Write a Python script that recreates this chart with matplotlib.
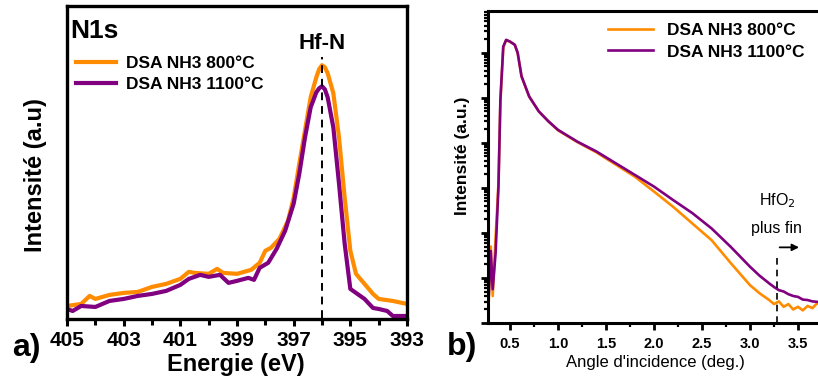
import matplotlib.pyplot as plt
import matplotlib
import numpy as np
from matplotlib.ticker import FixedLocator, MultipleLocator, LogLocator, NullFormatter

matplotlib.rcParams.update({'font.family': ['Liberation Sans', 'DejaVu Sans']})

ORANGE = '#ff8c00'
PURPLE = '#800080'
labels = ['DSA NH3 800°C', 'DSA NH3 1100°C']

# --- a) N1s spectra (binding energy, arbitrary intensity) ---
e_800 = [405.0, 404.5, 404.2, 404.0, 403.5, 403.0, 402.5, 402.0, 401.5, 401.0, 400.7,
         400.5, 400.0, 399.7, 399.5, 399.0, 398.5, 398.2, 398.0, 397.8, 397.5, 397.2,
         397.0, 396.8, 396.6, 396.4, 396.2, 396.1, 396.0, 395.9, 395.8, 395.6, 395.4,
         395.2, 395.0, 394.8, 394.5, 394.2, 394.0, 393.5, 393.0]
i_800 = [10, 12, 20, 17, 21, 23, 24, 29, 32, 37, 44,
         43, 42, 47, 43, 42, 46, 53, 65, 68, 77, 95,
         118, 152, 185, 218, 238, 246, 250, 248, 242, 222, 178,
         118, 65, 42, 32, 22, 17, 15, 12]
e_1100 = [405.0, 404.8, 404.5, 404.0, 403.5, 403.0, 402.5, 402.0, 401.5, 401.0, 400.7,
          400.3, 400.0, 399.6, 399.3, 399.0, 398.6, 398.4, 398.2, 397.9, 397.6, 397.3,
          397.0, 396.8, 396.6, 396.4, 396.2, 396.1, 396.0, 395.9, 395.8, 395.6, 395.4,
          395.2, 395.0, 394.8, 394.5, 394.2, 394.0, 393.7, 393.5, 393.0]
i_1100 = [7, 5, 10, 9, 15, 17, 20, 22, 25, 31, 37,
          41, 39, 41, 33, 35, 38, 36, 48, 53, 67, 85,
          112, 142, 178, 208, 223, 227, 229, 226, 218, 188, 132,
          72, 27, 23, 17, 8, 7, 5, 0, 0]
e_ticks = [405, 403, 401, 399, 397, 395, 393]

# --- b) intensity vs incidence angle (log10 of intensity) ---
ang_800 = [0.27, 0.30, 0.32, 0.35, 0.38, 0.40, 0.43, 0.46, 0.50, 0.55, 0.58, 0.62,
           0.70, 0.80, 0.90, 1.0, 1.2, 1.4, 1.6, 1.8, 2.0, 2.2, 2.4, 2.6, 2.8,
           3.0, 3.1, 3.2, 3.25, 3.3, 3.35, 3.4, 3.45, 3.5, 3.55, 3.6, 3.65, 3.7, 3.75]
log_800 = [0.0, 1.7, 0.6, 1.9, 3.1, 4.9, 6.12, 6.28, 6.25, 6.18, 6.0, 5.48,
           5.03, 4.7, 4.48, 4.28, 4.02, 3.79, 3.52, 3.25, 2.92, 2.58, 2.21, 1.84, 1.33,
           0.84, 0.66, 0.51, 0.42, 0.48, 0.36, 0.42, 0.30, 0.36, 0.28, 0.38, 0.33, 0.44, 0.40]
ang_1100 = [0.27, 0.30, 0.32, 0.35, 0.38, 0.40, 0.43, 0.46, 0.50, 0.55, 0.58, 0.62,
            0.70, 0.80, 0.90, 1.0, 1.2, 1.4, 1.6, 1.8, 2.0, 2.2, 2.4, 2.6, 2.8,
            3.0, 3.1, 3.2, 3.25, 3.3, 3.35, 3.4, 3.45, 3.5, 3.55, 3.6, 3.65, 3.7, 3.75]
log_1100 = [0.2, 1.6, 0.75, 1.55, 3.03, 4.96, 6.14, 6.29, 6.25, 6.18, 6.0, 5.48,
            5.03, 4.7, 4.48, 4.29, 4.03, 3.81, 3.55, 3.29, 3.03, 2.73, 2.44, 2.1, 1.69,
            1.25, 1.05, 0.88, 0.80, 0.73, 0.70, 0.64, 0.60, 0.58, 0.52, 0.51, 0.48, 0.47, 0.45]

W, H = 818, 380
fig = plt.figure(figsize=(W / 100, H / 100), dpi=100)

def fx(px):
    return px / W

def fy(py):
    return 1 - py / H

# ---------------- panel a ----------------
ax1 = fig.add_axes([fx(67), fy(319), fx(407) - fx(67), fy(6) - fy(319)])
ax1.plot(e_800, i_800, color=ORANGE, lw=3.0, label=labels[0])
ax1.plot(e_1100, i_1100, color=PURPLE, lw=3.0, label=labels[1])
ax1.vlines(396.0, -2, 258, colors='k', linestyles=(0, (4, 3)), lw=1.4)
ax1.set_xlim(405, 393)
ax1.set_ylim(-3, 309)
ax1.xaxis.set_major_locator(FixedLocator(e_ticks))
ax1.xaxis.set_minor_locator(MultipleLocator(1))
ax1.set_yticks([])
ax1.tick_params(axis='x', which='major', direction='out', length=5, width=2.2,
                labelsize=15, pad=4)
ax1.tick_params(axis='x', which='minor', direction='out', length=4, width=2.2)
for lab in ax1.get_xticklabels():
    lab.set_fontweight('bold')
for s in ax1.spines.values():
    s.set_linewidth(2.4)
ax1.legend(loc='upper left', bbox_to_anchor=(-0.005, 0.875), frameon=False,
           prop={'weight': 'bold', 'size': 12.5}, handlelength=2.3,
           handletextpad=0.6, labelspacing=0.35, borderaxespad=0.2)
ax1.text(405 - 0.1, 309 - 25, 'N1s', fontsize=19, fontweight='bold', va='center', ha='left')
ax1.text(396.0, 266, 'Hf-N', fontsize=16, fontweight='bold', ha='center', va='baseline')

# ---------------- panel b ----------------
ax2 = fig.add_axes([fx(488), fy(323), fx(822) - fx(488), fy(11) - fy(323)])
ax2.plot(ang_800, 10 ** np.array(log_800), color=ORANGE, lw=1.9, label=labels[0])
ax2.plot(ang_1100, 10 ** np.array(log_1100), color=PURPLE, lw=1.9, label=labels[1])
ax2.set_yscale('log')
ax2.set_xlim(0.271, 3.75)
ax2.set_ylim(1, 10 ** 6.93)
ax2.vlines(3.28, 1, 10 ** 1.5, colors='k', linestyles=(0, (4, 3)), lw=1.2)
ax2.annotate('', xy=(3.54, 10 ** 1.68), xytext=(3.28, 10 ** 1.68),
             arrowprops=dict(arrowstyle='-|>', color='k', lw=1.3, mutation_scale=10))
ax2.text(3.28, 10 ** 2.72, 'HfO$_2$', fontsize=11.5, ha='center', va='center')
ax2.text(3.28, 10 ** 2.1, 'plus fin', fontsize=11.5, ha='center', va='center')
ax2.xaxis.set_major_locator(MultipleLocator(0.5))
ax2.xaxis.set_minor_locator(MultipleLocator(0.25))
ax2.yaxis.set_major_locator(LogLocator(base=10, numticks=20))
ax2.yaxis.set_minor_locator(LogLocator(base=10, subs=np.arange(2, 10), numticks=20))
ax2.yaxis.set_major_formatter(NullFormatter())
ax2.yaxis.set_minor_formatter(NullFormatter())
ax2.tick_params(axis='both', which='major', direction='out', length=5, width=2.0,
                labelsize=10.5, pad=5)
ax2.tick_params(axis='both', which='minor', direction='out', length=3, width=1.6)
for lab in ax2.get_xticklabels():
    lab.set_fontweight('bold')
for s in ax2.spines.values():
    s.set_linewidth(2.2)
ax2.set_xlabel("Angle d'incidence (deg.)", fontsize=12, labelpad=3)
ax2.legend(loc='upper right', bbox_to_anchor=(0.985, 1.0), frameon=False,
           prop={'weight': 'bold', 'size': 12.5}, handlelength=2.6,
           handletextpad=0.8, labelspacing=0.35, borderaxespad=0.3)

# ---------------- figure texts ----------------
fig.text(fx(36), fy(175), 'Intensité (a.u)', rotation=90, fontsize=17,
         fontweight='bold', ha='center', va='center')
fig.text(fx(236), fy(364), 'Energie (eV)', fontsize=17, fontweight='bold',
         ha='center', va='center')
fig.text(fx(26), fy(348), 'a)', fontsize=23, fontweight='bold', ha='center', va='center')
fig.text(fx(463), fy(156), 'Intensité (a.u.)', rotation=90, fontsize=12.5,
         fontweight='bold', ha='center', va='center')
fig.text(fx(462), fy(347), 'b)', fontsize=23, fontweight='bold', ha='center', va='center')

fig.savefig('out.png', dpi=100)
